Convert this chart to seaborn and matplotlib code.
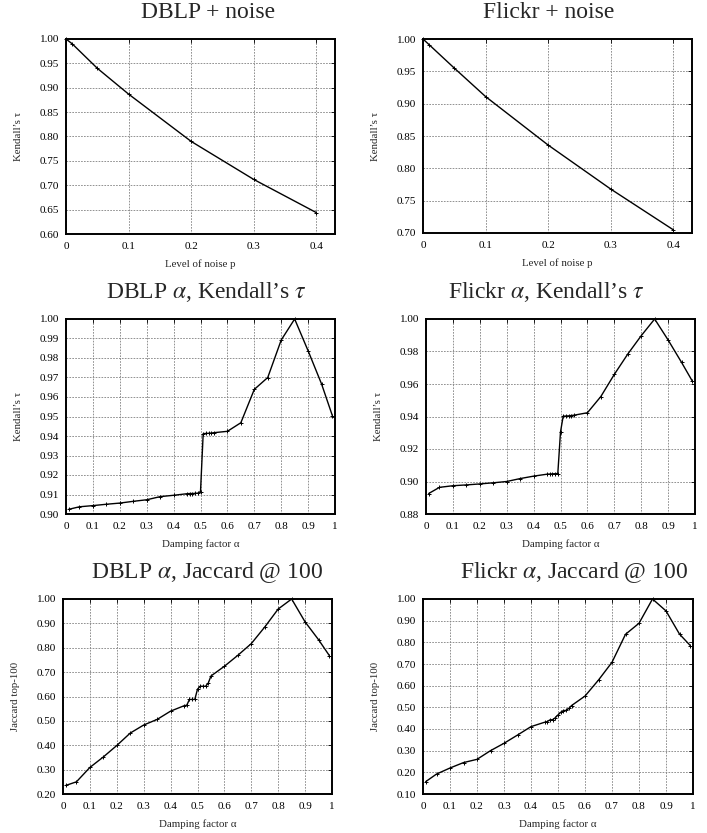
import numpy as np
import pandas as pd
import matplotlib
matplotlib.use("Agg")
import matplotlib.pyplot as plt
import seaborn as sns

sns.set_theme(style="white")
plt.rcParams["font.family"] = ["Liberation Serif", "DejaVu Serif"]
plt.rcParams["mathtext.fontset"] = "stix"

TICK_SIZE = 8
LABEL_SIZE = 7.8
TITLE_SIZE = 17

# noise experiments
noise_p = [0, 0.01, 0.05, 0.1, 0.2, 0.3, 0.4]
dblp_noise = [1.0, 0.990, 0.940, 0.887, 0.790, 0.712, 0.644]
flickr_noise = [1.0, 0.991, 0.955, 0.911, 0.836, 0.768, 0.705]

# damping factor experiments
alpha = [0.01, 0.05, 0.1, 0.15, 0.2, 0.25, 0.3, 0.35, 0.4, 0.45, 0.46, 0.47,
         0.48, 0.49, 0.5, 0.51, 0.52, 0.53, 0.54, 0.55, 0.6, 0.65, 0.7, 0.75,
         0.8, 0.85, 0.9, 0.95, 0.99]
dblp_kendall = [0.9024, 0.9037, 0.9043, 0.9050, 0.9056, 0.9065, 0.9073, 0.9089,
                0.9096, 0.9104, 0.9105, 0.9105, 0.9106, 0.9107, 0.9115, 0.9412,
                0.9413, 0.9414, 0.9415, 0.9417, 0.9424, 0.9468, 0.9639, 0.9700,
                0.9892, 1.0, 0.9837, 0.9667, 0.9505]
flickr_kendall = [0.8926, 0.8964, 0.8974, 0.8979, 0.8985, 0.8992, 0.9000, 0.9018,
                  0.9033, 0.9045, 0.9046, 0.9047, 0.9048, 0.9049, 0.9305, 0.9402,
                  0.9403, 0.9404, 0.9406, 0.9408, 0.9423, 0.9523, 0.9659, 0.9784,
                  0.9897, 1.0, 0.9871, 0.9733, 0.9618]
dblp_jaccard = [0.235, 0.250, 0.309, 0.352, 0.399, 0.450, 0.483, 0.506, 0.540,
                0.562, 0.564, 0.588, 0.588, 0.588, 0.630, 0.642, 0.642, 0.642,
                0.655, 0.684, 0.724, 0.769, 0.817, 0.885, 0.959, 1.0, 0.906,
                0.833, 0.768]
flickr_jaccard = [0.157, 0.192, 0.220, 0.245, 0.260, 0.300, 0.334, 0.372, 0.411,
                  0.431, 0.434, 0.442, 0.443, 0.452, 0.465, 0.477, 0.485, 0.486,
                  0.495, 0.508, 0.552, 0.626, 0.708, 0.837, 0.888, 1.0, 0.945,
                  0.838, 0.785]

W, H = 707, 833
fig = plt.figure(figsize=(W / 100, H / 100), dpi=100)


def make_ax(left, right, top, bottom):
    return fig.add_axes([left / W, 1 - bottom / H, (right - left) / W, (bottom - top) / H])


panels = [
    # (box, title centre px, x, y, title, xlabel, ylabel, xlim, ylim, yticks, xticks)
    ((66, 335, 39, 234), 208, noise_p, dblp_noise, "DBLP + noise", "Level of noise p",
     "Kendall’s τ", (0, 0.43), (0.6, 1.0), np.arange(0.60, 1.001, 0.05),
     [0, 0.1, 0.2, 0.3, 0.4]),
    ((423, 692, 39, 233), 549, noise_p, flickr_noise, "Flickr + noise", "Level of noise p",
     "Kendall’s τ", (0, 0.43), (0.7, 1.0), np.arange(0.70, 1.001, 0.05),
     [0, 0.1, 0.2, 0.3, 0.4]),
    ((66, 335, 319, 514), 206, alpha, dblp_kendall, "DBLP $\\alpha$, Kendall’s $\\tau$",
     "Damping factor α", "Kendall’s τ", (0, 1), (0.9, 1.0),
     np.arange(0.90, 1.0001, 0.01), np.arange(0, 1.001, 0.1)),
    ((426, 695, 319, 514), 547, alpha, flickr_kendall, "Flickr $\\alpha$, Kendall’s $\\tau$",
     "Damping factor α", "Kendall’s τ", (0, 1), (0.88, 1.0),
     np.arange(0.88, 1.0001, 0.02), np.arange(0, 1.001, 0.1)),
    ((63, 332, 599, 794), 207, alpha, dblp_jaccard, "DBLP $\\alpha$, Jaccard @ 100",
     "Damping factor α", "Jaccard top-100", (0, 1), (0.2, 1.0),
     np.arange(0.20, 1.001, 0.1), np.arange(0, 1.001, 0.1)),
    ((423, 693, 599, 794), 574, alpha, flickr_jaccard, "Flickr $\\alpha$, Jaccard @ 100",
     "Damping factor α", "Jaccard top-100", (0, 1), (0.1, 1.0),
     np.arange(0.10, 1.001, 0.1), np.arange(0, 1.001, 0.1)),
]

for box, tx, xs, ys, title, xlabel, ylabel, xlim, ylim, yticks, xticks in panels:
    ax = make_ax(*box)
    df = pd.DataFrame({"x": xs, "y": ys})
    sns.lineplot(data=df, x="x", y="y", ax=ax, color="black", linewidth=1.0,
                 marker="+", markersize=3.5, markeredgewidth=0.7,
                 markeredgecolor="black", sort=False, estimator=None, clip_on=False)
    ax.set_xlim(*xlim)
    ax.set_ylim(*ylim)
    ax.set_xticks(xticks)
    ax.set_xticklabels(["%g" % round(t, 2) for t in xticks])
    ax.set_yticks(yticks)
    ax.set_yticklabels(["%.2f" % t for t in yticks])
    ax.grid(True, color="#808080", linestyle=(0, (2, 1.5)), linewidth=0.6)
    ax.set_axisbelow(True)
    for s in ax.spines.values():
        s.set_color("black")
        s.set_linewidth(1.4)
    ax.tick_params(direction="in", length=3, width=0.6, top=True, right=True,
                   labelsize=TICK_SIZE, colors="black")
    ax.tick_params(axis="x", pad=6)
    ax.tick_params(axis="y", pad=5)
    ax.set_xlabel(xlabel, fontsize=LABEL_SIZE, labelpad=6)
    ax.set_ylabel(ylabel, fontsize=LABEL_SIZE, labelpad=12)
    t = ax.set_title(title, fontsize=TITLE_SIZE, pad=15)
    t.set_x((tx - box[0]) / (box[1] - box[0]))

fig.savefig("out.png", dpi=100)
